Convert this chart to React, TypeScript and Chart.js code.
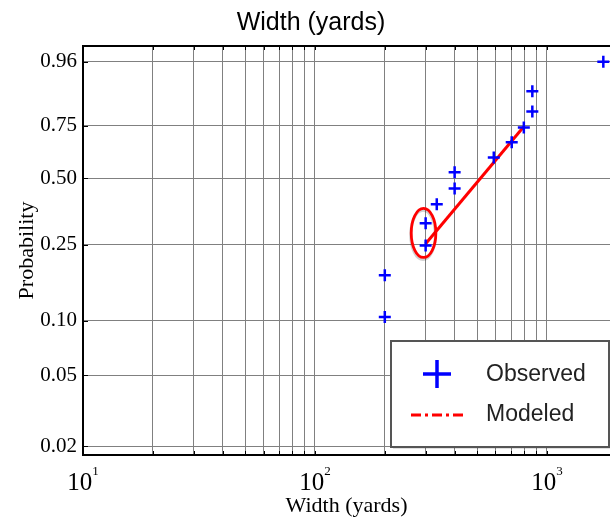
import React, { useEffect, useRef } from "react";
import { Chart, registerables } from "chart.js";

Chart.register(...registerables);

// ---- data ----
const chartTitle = "Width (yards)";
const observedWidth = [200, 200, 300, 300, 335, 400, 400, 590, 705, 795, 865, 865, 1750];
const observedProb = [0.105, 0.175, 0.248, 0.318, 0.388, 0.454, 0.527, 0.597, 0.671, 0.741, 0.812, 0.887, 0.96];
const modeledWidth = [300, 792];
const modeledProb = [0.253, 0.744];
const ellipseWidth = [260, 332];
const ellipseProb = [0.216, 0.372];
const yTickProbs = [0.02, 0.05, 0.1, 0.25, 0.5, 0.75, 0.96];
const xGridValues = [10, 20, 30, 40, 50, 60, 70, 80, 90, 100, 200, 300, 400, 500, 600, 700, 800, 900, 1000];
const xLabelValues = [10, 100, 1000];
const xRange = [10, 1870];
const probRange = [0.0178, 0.981];

const weib = (p: number) => Math.log(-Math.log(1 - p));

const frameAndExtras = {
  id: "frameAndExtras",
  afterDatasetsDraw(chart: any) {
    const { ctx, scales } = chart;
    const xs = scales.x, ys = scales.y;
    const x1 = xs.getPixelForValue(ellipseWidth[0]);
    const x2 = xs.getPixelForValue(ellipseWidth[1]);
    const y1 = ys.getPixelForValue(weib(ellipseProb[1]));
    const y2 = ys.getPixelForValue(weib(ellipseProb[0]));
    const cx = (x1 + x2) / 2, cy = (y1 + y2) / 2;
    const rx = (x2 - x1) / 2, ry = (y2 - y1) / 2;
    ctx.save();
    ctx.lineWidth = 3;
    ctx.strokeStyle = "rgba(0,0,0,0.18)";
    ctx.beginPath();
    ctx.ellipse(cx - 0.5, cy + 2, rx, ry, 0, 0, Math.PI * 2);
    ctx.stroke();
    ctx.strokeStyle = "#ff0000";
    ctx.lineWidth = 2.8;
    ctx.beginPath();
    ctx.ellipse(cx, cy, rx, ry, 0, 0, Math.PI * 2);
    ctx.stroke();
    ctx.restore();
  },
  afterDraw(chart: any) {
    const { ctx, chartArea: a, scales } = chart;
    const xs = scales.x, ys = scales.y;
    ctx.save();
    // title
    ctx.fillStyle = "#000";
    ctx.font = "25px 'Liberation Sans'";
    ctx.textAlign = "center";
    ctx.textBaseline = "alphabetic";
    ctx.fillText(chartTitle, 311, 30);
    // top frame
    ctx.strokeStyle = "#000";
    ctx.lineWidth = 2;
    ctx.beginPath();
    ctx.moveTo(a.left - 1, a.top);
    ctx.lineTo(a.right, a.top);
    ctx.stroke();
    // inward tick marks
    ctx.lineWidth = 1;
    for (const v of xGridValues) {
      const px = Math.round(xs.getPixelForValue(v)) + 0.5;
      ctx.beginPath();
      ctx.moveTo(px, a.top);
      ctx.lineTo(px, a.top + 4);
      ctx.moveTo(px, a.bottom);
      ctx.lineTo(px, a.bottom - 4);
      ctx.stroke();
    }
    for (const p of yTickProbs) {
      const py = Math.round(ys.getPixelForValue(weib(p))) + 0.5;
      ctx.beginPath();
      ctx.moveTo(a.left, py);
      ctx.lineTo(a.left + 5, py);
      ctx.stroke();
    }
    // x tick labels with superscripts
    ctx.textAlign = "left";
    ctx.textBaseline = "alphabetic";
    for (const v of xLabelValues) {
      const px = xs.getPixelForValue(v);
      const e = String(Math.round(Math.log10(v)));
      ctx.font = "25px 'Liberation Serif'";
      const w1 = ctx.measureText("10").width;
      ctx.font = "13px 'Liberation Serif'";
      const w2 = ctx.measureText(e).width;
      const sx = px - (w1 + w2) / 2;
      ctx.font = "25px 'Liberation Serif'";
      ctx.fillText("10", sx, 490);
      ctx.font = "13px 'Liberation Serif'";
      ctx.fillText(e, sx + w1, 475);
    }
    // legend
    const L = 391, T = 341, R = 609, B = 447;
    ctx.fillStyle = "rgba(0,0,0,0.12)";
    ctx.fillRect(L + 2, T + 2, R - L, B - T);
    ctx.fillStyle = "#fff";
    ctx.fillRect(L, T, R - L, B - T);
    ctx.strokeStyle = "#555";
    ctx.lineWidth = 2;
    ctx.strokeRect(L, T, R - L, B - T);
    ctx.strokeStyle = "#0000ff";
    ctx.lineWidth = 3.5;
    ctx.beginPath();
    ctx.moveTo(423, 374);
    ctx.lineTo(451, 374);
    ctx.moveTo(437, 360);
    ctx.lineTo(437, 388);
    ctx.stroke();
    ctx.strokeStyle = "#ff0000";
    ctx.lineWidth = 3;
    ctx.setLineDash([10, 4, 3, 4]);
    ctx.beginPath();
    ctx.moveTo(411, 415);
    ctx.lineTo(466, 415);
    ctx.stroke();
    ctx.setLineDash([]);
    ctx.fillStyle = "#222";
    ctx.font = "23px 'Liberation Sans'";
    ctx.textBaseline = "middle";
    ctx.fillText("Observed", 486, 375);
    ctx.fillText("Modeled", 486, 415);
    ctx.restore();
  },
};

export default function App() {
  const ref = useRef<HTMLCanvasElement>(null);
  useEffect(() => {
    document.body.style.margin = "0";
    document.body.style.overflow = "hidden";
    if (!ref.current) return;
    const chart = new Chart(ref.current, {
      type: "scatter",
      data: {
        datasets: [
          {
            label: "Observed",
            data: observedWidth.map((w, i) => ({ x: w, y: weib(observedProb[i]) })),
            pointStyle: "cross",
            pointRadius: 6,
            pointBorderWidth: 2.5,
            borderColor: "#0000ff",
            backgroundColor: "#0000ff",
            showLine: false,
            order: 0,
          },
          {
            label: "Modeled",
            data: modeledWidth.map((w, i) => ({ x: w, y: weib(modeledProb[i]) })),
            showLine: true,
            borderColor: "#ff0000",
            borderWidth: 3,
            pointRadius: 0,
            order: 1,
          },
        ],
      },
      options: {
        responsive: false,
        animation: false,
        layout: { autoPadding: false, padding: { top: 46, right: 0, left: 0, bottom: 0 } },
        plugins: {
          legend: { display: false },
          tooltip: { enabled: false },
          title: { display: false },
        },
        scales: {
          x: {
            type: "logarithmic",
            min: xRange[0],
            max: xRange[1],
            afterBuildTicks: (s: any) => {
              s.ticks = xGridValues.map((v) => ({ value: v }));
            },
            afterFit: (s: any) => {
              s.height = 66;
            },
            ticks: { display: false },
            grid: { color: "#808080", lineWidth: 1, drawTicks: false },
            border: { color: "#000", width: 2 },
            title: {
              display: true,
              text: "Width (yards)",
              color: "#000",
              font: { family: "'Liberation Serif'", size: 22 },
              padding: { top: 0, bottom: 2 },
            },
          },
          y: {
            type: "linear",
            min: weib(probRange[0]),
            max: weib(probRange[1]),
            afterBuildTicks: (s: any) => {
              s.ticks = yTickProbs.map((p) => ({ value: weib(p) }));
            },
            afterFit: (s: any) => {
              s.width = 83;
            },
            ticks: {
              color: "#000",
              font: { family: "'Liberation Serif'", size: 21 },
              padding: 6,
              callback: (_v: any, i: number) => yTickProbs[i].toFixed(2),
            },
            grid: { color: "#808080", lineWidth: 1, drawTicks: false },
            border: { color: "#000", width: 2 },
            title: {
              display: true,
              text: "Probability",
              color: "#000",
              font: { family: "'Liberation Serif'", size: 22 },
              padding: { top: 14, bottom: 0 },
            },
          },
        },
      },
      plugins: [frameAndExtras],
    } as any);
    return () => chart.destroy();
  }, []);
  return (
    <div style={{ width: 610, height: 521, overflow: "hidden" }}>
      <canvas ref={ref} width={610} height={521} style={{ display: "block" }} />
    </div>
  );
}
